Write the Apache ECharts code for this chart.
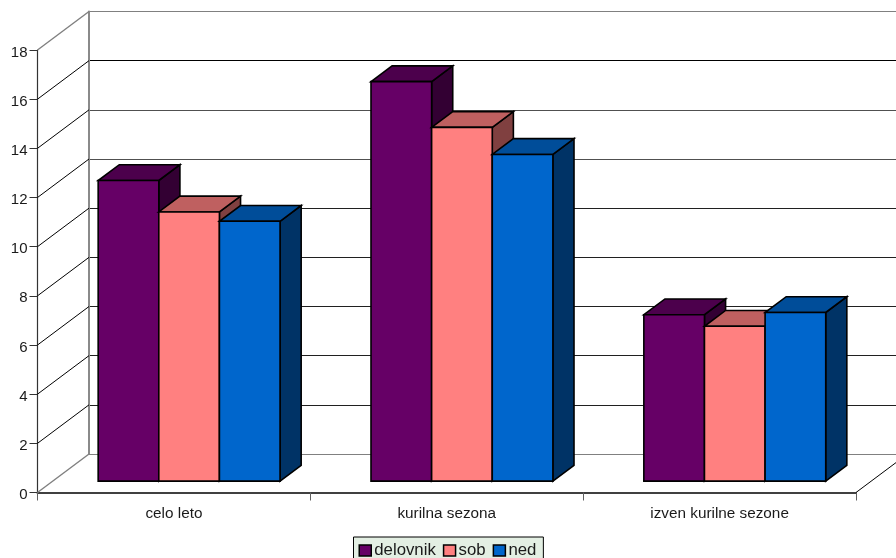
<!DOCTYPE html>
<html>
<head>
<meta charset="utf-8">
<style>html,body{margin:0;padding:0;background:#fff}#chart{width:896px;height:558px}</style>
<script src="https://cdn.jsdelivr.net/npm/echarts@6/dist/echarts.min.js"></script>
</head>
<body>
<div id="chart"></div>
<script>
const categories = ['celo leto', 'kurilna sezona', 'izven kurilne sezone'];
const delovnik = [12.23, 16.25, 6.77];
const sob = [10.95, 14.39, 6.3];
const ned = [10.57, 13.29, 6.86];
const yTicks = [0, 2, 4, 6, 8, 10, 12, 14, 16, 18];

// Oblique projection: how far the rear wall sits from the front plane, in pixels.
const DEPTH_X = 51.5;
const DEPTH_Y = 38.5;
const BAR_START = 0.295;   // share of the depth in front of the bars
const BAR_DEPTH = 0.41;    // share of the depth taken by a bar
const GAP_SLOTS = 1.5;     // empty space per category, in bar widths

const palette = [
  { name: 'delovnik', values: delovnik, front: '#660066', top: '#4c004c', side: '#330033' },
  { name: 'sob',      values: sob,      front: '#ff8080', top: '#bf6060', side: '#804040' },
  { name: 'ned',      values: ned,      front: '#0066cc', top: '#004d99', side: '#003366' }
];

const outline = { stroke: '#000', lineWidth: 1.6, lineJoin: 'miter' };

function poly(points, fill) {
  return { type: 'polygon', shape: { points }, style: Object.assign({ fill }, outline) };
}

function barRenderer(seriesIdx, s) {
  return function (params, api) {
    const cat = api.value(0);
    const band = api.size([1, 0])[0];
    const w = band / (palette.length + GAP_SLOTS);
    const base = api.coord([cat, 0]);
    const head = api.coord([cat, api.value(1)]);
    const left = base[0] - band / 2 + DEPTH_X * BAR_START + w * (GAP_SLOTS / 2 + seriesIdx);
    const right = left + w;
    const lift = DEPTH_Y * BAR_START;
    const yb = base[1] - lift;
    const yt = head[1] - lift;
    const dx = DEPTH_X * BAR_DEPTH;
    const dy = DEPTH_Y * BAR_DEPTH;
    return {
      type: 'group',
      children: [
        poly([[right, yb], [right + dx, yb - dy], [right + dx, yt - dy], [right, yt]], s.side),
        poly([[left, yt], [right, yt], [right + dx, yt - dy], [left + dx, yt - dy]], s.top),
        poly([[left, yb], [right, yb], [right, yt], [left, yt]], s.front)
      ]
    };
  };
}

// Side wall rungs running from the value axis back to the rear wall, plus the floor edge.
function wallRenderer(params, api) {
  const v = api.value(1);
  const band = api.size([1, 0])[0];
  const p = api.coord([0, v]);
  const x = p[0] - band / 2;
  const edge = v === yTicks[0] || v === yTicks[yTicks.length - 1];
  const color = edge ? '#808080' : '#000';
  const rung = (x0) => ({
    type: 'line',
    shape: { x1: x0, y1: p[1], x2: x0 + DEPTH_X, y2: p[1] - DEPTH_Y },
    style: { stroke: color, lineWidth: edge ? 1.4 : 1 }
  });
  const children = [rung(x)];
  if (v === yTicks[0]) {
    const far = api.coord([categories.length - 1, 0])[0] + band / 2;
    children.push(Object.assign(rung(far), { style: { stroke: '#000', lineWidth: 1 } }));
  }
  return { type: 'group', children };
}

const FONT = '"Liberation Sans", Arial, sans-serif';

const option = {
  animation: false,
  backgroundColor: '#fff',
  grid: [
    { left: 37.5, top: 50, width: 818.5, height: 442.5, outerBoundsMode: 'none', containLabel: false },
    { left: 89, top: 11.5, width: 818.5, height: 442.5, outerBoundsMode: 'none', containLabel: false }
  ],
  xAxis: [
    {
      type: 'category', gridIndex: 0, data: categories,
      axisLine: { lineStyle: { color: '#404040', width: 2 } },
      axisTick: { show: true, alignWithLabel: false, length: 8, lineStyle: { color: '#606060', width: 1 } },
      axisLabel: { color: '#1a1a1a', fontFamily: FONT, fontSize: 15.3, margin: 14, interval: 0 },
      splitLine: { show: false }
    },
    {
      type: 'category', gridIndex: 1, data: categories,
      axisLine: { lineStyle: { color: '#808080', width: 1 } },
      axisTick: { show: false }, axisLabel: { show: false }, splitLine: { show: false }
    }
  ],
  yAxis: [
    {
      type: 'value', gridIndex: 0, min: 0, max: 18, interval: 2,
      axisLine: { show: true, lineStyle: { color: '#333', width: 1.2 } },
      axisTick: { show: true, length: 8, lineStyle: { color: '#333', width: 1 } },
      axisLabel: { color: '#1a1a1a', fontFamily: FONT, fontSize: 15, margin: 10, verticalAlign: 'top', lineHeight: 5 },
      splitLine: { show: false }
    },
    {
      type: 'value', gridIndex: 1, min: 0, max: 18, interval: 2,
      axisLine: { show: true, lineStyle: { color: '#8a8a8a', width: 2 } },
      axisTick: { show: false }, axisLabel: { show: false },
      splitLine: {
        show: true,
        lineStyle: {
          color: ['#707070', '#202020', '#202020', '#202020', '#202020', '#202020', '#505050', '#505050', '#000', '#808080'],
          width: 1
        }
      }
    }
  ],
  legend: {
    data: palette.map(s => s.name),
    left: 353.5, top: 537,
    itemWidth: 12, itemHeight: 11, itemGap: 7,
    padding: [5, 7, 9, 5],
    backgroundColor: '#e3efe3',
    borderColor: '#000', borderWidth: 1, borderRadius: 0,
    selectedMode: false,
    icon: 'rect',
    textStyle: { color: '#1a1a1a', fontFamily: FONT, fontSize: 16.8, padding: [0, 0, 0, -2] },
    itemStyle: { borderColor: '#000', borderWidth: 1.5 }
  },
  series: [
    {
      type: 'custom', name: 'walls', xAxisIndex: 0, yAxisIndex: 0, silent: true, z: 1,
      data: yTicks.map(v => [0, v]), renderItem: wallRenderer, encode: { x: 0, y: 1 }
    }
  ].concat(palette.map((s, i) => ({
    type: 'custom', name: s.name, xAxisIndex: 0, yAxisIndex: 0, z: 3 + i,
    itemStyle: { color: s.front },
    data: s.values.map((v, c) => [c, v]),
    encode: { x: 0, y: 1 },
    renderItem: barRenderer(i, s)
  })))
};

echarts.init(document.getElementById('chart'), null, { renderer: 'canvas' }).setOption(option);
</script>
</body>
</html>
